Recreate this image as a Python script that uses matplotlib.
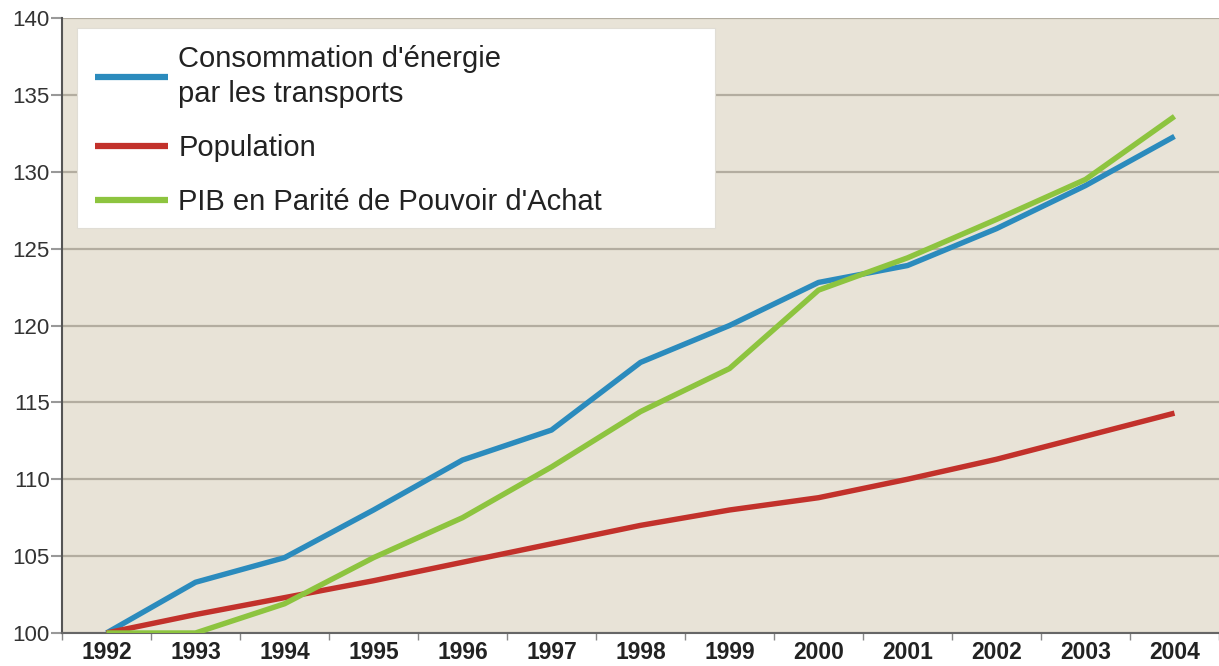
import matplotlib
matplotlib.use("Agg")
import matplotlib.pyplot as plt
from matplotlib.patches import Rectangle
import numpy as np

years = ["1992", "1993", "1994", "1995", "1996", "1997", "1998", "1999",
         "2000", "2001", "2002", "2003", "2004"]
energie = [100, 103.3, 104.9, 108.0, 111.25, 113.2, 117.6, 120.0, 122.8, 123.9, 126.3, 129.1, 132.3]
population = [100, 101.2, 102.3, 103.4, 104.6, 105.8, 107.0, 108.0, 108.8, 110.0, 111.3, 112.8, 114.3]
pib = [100, 100, 101.9, 104.9, 107.5, 110.8, 114.4, 117.2, 122.3, 124.4, 126.9, 129.5, 133.6]

labels = ["Consommation d'énergie\npar les transports", "Population",
          "PIB en Parité de Pouvoir d'Achat"]
colors = ["#2b8bbd", "#c2312b", "#8dc43f"]
yticks = list(range(100, 141, 5))

plt.rcParams['font.family'] = ['Liberation Sans', 'DejaVu Sans']

fig = plt.figure(figsize=(12.19, 6.66), dpi=100)
ax = fig.add_axes([62/1219, 1 - 633/666, 1 - 62/1219, (633 - 18)/666])
ax.set_facecolor("#e8e3d7")

x = np.arange(len(years))
for vals, lab, c in zip([energie, population, pib], labels, colors):
    ax.plot(x, vals, color=c, lw=3.9, label=lab, solid_capstyle='butt', zorder=3)

ax.set_xlim(-0.5, len(years) - 0.5)
ax.set_ylim(100, 140)
ax.set_yticks(yticks)
ax.set_yticklabels([str(v) for v in yticks], fontsize=16, color="#333333")
ax.yaxis.grid(True, color="#b3ada0", lw=1.6, zorder=1)
ax.set_axisbelow(True)

ax.set_xticks(x)
ax.set_xticklabels(years, fontsize=16.5, fontweight='bold', color="#222222")
ax.set_xticks(np.arange(-0.5, len(years)), minor=True)
ax.tick_params(axis='x', which='major', length=0, pad=6)
ax.tick_params(axis='x', which='minor', length=5, color="#888888", width=1)
ax.tick_params(axis='y', length=8, color="#999999", width=1.5, pad=1)

for s in ["top", "right"]:
    ax.spines[s].set_visible(False)
ax.spines["left"].set_color("#555555")
ax.spines["bottom"].set_color("#666666")
ax.spines["left"].set_linewidth(1.5)
ax.spines["bottom"].set_linewidth(1.5)

# legend background box
box = Rectangle((15/1157, (633-228)/615), 638/1157, 200/615, transform=ax.transAxes,
                facecolor="white", edgecolor="#e0ddd5", lw=0.8, zorder=4)
ax.add_patch(box)

leg = ax.legend(loc="upper left", bbox_to_anchor=(33/1157, (633-45)/615), borderaxespad=0,
                fontsize=21, frameon=False, handlelength=2.5, handletextpad=0.36,
                labelspacing=0.9, borderpad=0)
for t in leg.get_texts():
    t.set_color("#222222")
    t.set_linespacing(1.3)
for h in leg.get_lines():
    h.set_linewidth(4.5)
leg.set_zorder(5)

fig.savefig("out.png", dpi=100, facecolor="white")
